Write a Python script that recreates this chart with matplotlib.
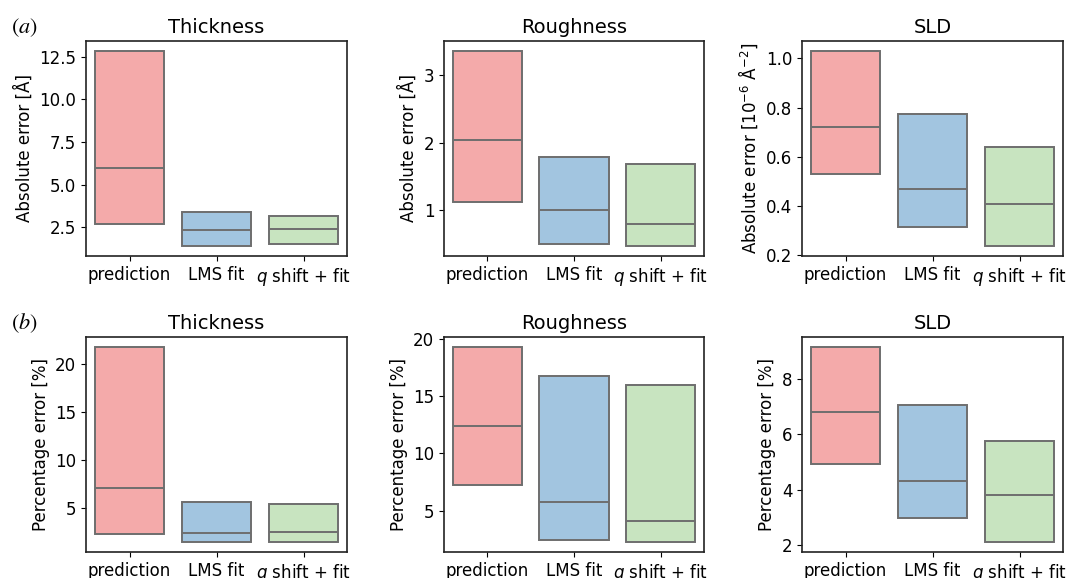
import matplotlib
matplotlib.use("Agg")
import matplotlib.pyplot as plt

plt.rcParams['font.family'] = ['DejaVu Sans']
plt.rcParams['mathtext.fontset'] = 'dejavusans'

methods = ["prediction", "LMS fit", "$q$ shift + fit"]
colors = ["#F4AAAA", "#A2C5E0", "#C8E4C0"]
edge = "#6E6E6E"

titles = ["Thickness", "Roughness", "SLD"]

# absolute error: (q1, median, q3) per method
abs_thickness = [(2.70, 5.97, 12.85), (1.39, 2.32, 3.42), (1.51, 2.40, 3.18)]
abs_roughness = [(1.12, 2.04, 3.36), (0.50, 1.00, 1.79), (0.47, 0.80, 1.69)]
abs_sld = [(0.532, 0.720, 1.031), (0.317, 0.471, 0.775), (0.237, 0.410, 0.640)]

# percentage error
pct_thickness = [(2.21, 7.05, 21.85), (1.40, 2.34, 5.63), (1.42, 2.42, 5.35)]
pct_roughness = [(7.27, 12.42, 19.30), (2.46, 5.76, 16.73), (2.26, 4.10, 15.94)]
pct_sld = [(4.92, 6.80, 9.16), (2.97, 4.32, 7.04), (2.10, 3.80, 5.74)]

abs_labels = ["Absolute error [Å]", "Absolute error [Å]",
              "Absolute error [$10^{-6}$ Å$^{-2}$]"]
pct_labels = ["Percentage error [%]"] * 3

rows = [[abs_thickness, abs_roughness, abs_sld],
        [pct_thickness, pct_roughness, pct_sld]]
ylabels = [abs_labels, pct_labels]

yticks = [[[2.5, 5.0, 7.5, 10.0, 12.5], [1, 2, 3], [0.2, 0.4, 0.6, 0.8, 1.0]],
          [[5, 10, 15, 20], [5, 10, 15, 20], [2, 4, 6, 8]]]

W, H = 1069, 578
fig = plt.figure(figsize=(W / 100, H / 100), dpi=100)

col_lr = [(86, 347), (444, 704), (802, 1063)]
row_tb = [(41, 256), (337, 552)]

for r in range(2):
    for c in range(3):
        l, rr = col_lr[c]
        t, b = row_tb[r]
        ax = fig.add_axes([l / W, 1 - b / H, (rr - l) / W, (b - t) / H])
        data = rows[r][c]
        stats = []
        for (q1, med, q3) in data:
            stats.append(dict(q1=q1, med=med, q3=q3, whislo=q1, whishi=q3, fliers=[]))
        bp = ax.bxp(stats, positions=[0, 1, 2], widths=0.8, patch_artist=True,
                    showcaps=False, showfliers=False,
                    boxprops=dict(edgecolor=edge, linewidth=1.4),
                    medianprops=dict(color=edge, linewidth=1.4),
                    whiskerprops=dict(color=edge, linewidth=0))
        for patch, col in zip(bp['boxes'], colors):
            patch.set_facecolor(col)
        ax.set_xlim(-0.5, 2.5)
        lo = min(d[0] for d in data)
        hi = max(d[2] for d in data)
        m = 0.05 * (hi - lo)
        ax.set_ylim(lo - m, hi + m)
        ax.set_xticks([0, 1, 2])
        ax.set_xticklabels(methods, fontsize=12)
        ax.set_yticks(yticks[r][c])
        ax.tick_params(axis='y', labelsize=12)
        for s in ax.spines.values():
            s.set_linewidth(1.2)
            s.set_color("#222222")
        ax.set_title(titles[c], fontsize=14)
        ax.set_ylabel(ylabels[r][c], fontsize=12)

fig.text(11 / W, 1 - 28 / H, r"$(\mathit{a})$", fontsize=16, va="center",
         math_fontfamily='stix')
fig.text(11 / W, 1 - 323 / H, r"$(\mathit{b})$", fontsize=16, va="center",
         math_fontfamily='stix')

fig.savefig("out.png", dpi=100)
